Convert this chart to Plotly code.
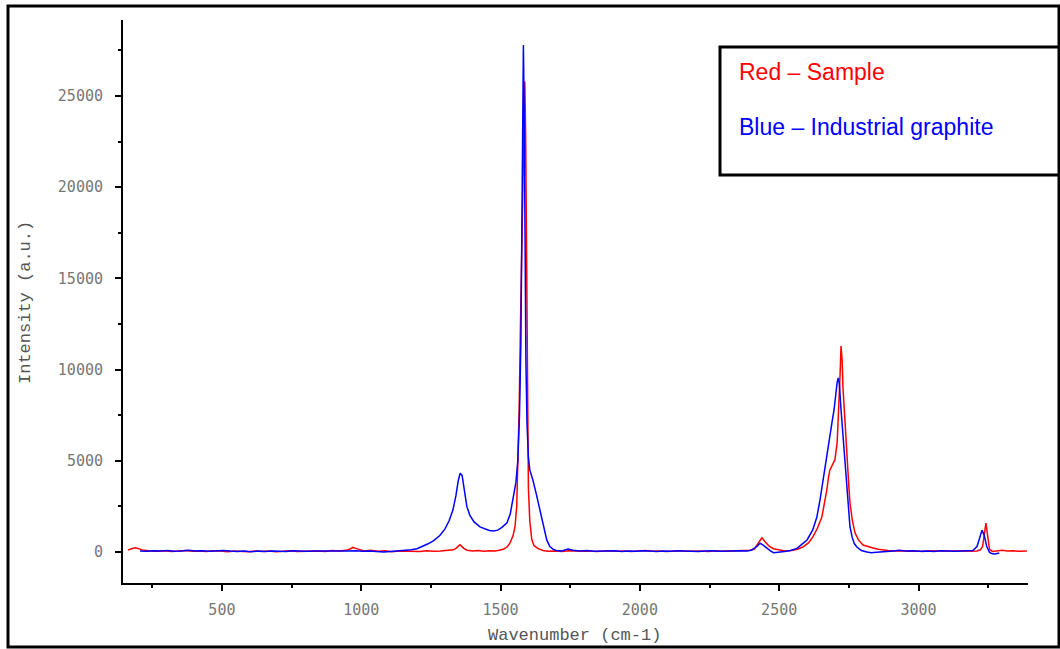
import plotly.graph_objects as go

# ---- Data ----
red_x = [163, 175, 190, 205, 220, 245, 270, 295, 320, 345, 370, 395, 420, 445, 470, 495, 520, 545, 570, 595,
         620, 645, 670, 695, 720, 745, 770, 795, 820, 845, 870, 895, 920, 945, 960, 970, 980, 995, 1010, 1035,
         1060, 1085, 1110, 1135, 1160, 1185, 1210, 1235, 1260, 1285, 1310, 1330, 1340, 1348, 1354, 1360, 1368, 1380, 1400, 1420,
         1440, 1460, 1480, 1495, 1510, 1525, 1534, 1545, 1552, 1558, 1562, 1567, 1572, 1578, 1583, 1587, 1590, 1593, 1596, 1600,
         1605, 1612, 1620, 1635, 1652, 1670, 1695, 1720, 1745, 1770, 1795, 1820, 1845, 1870, 1895, 1920, 1945, 1970, 1995, 2020,
         2045, 2070, 2095, 2120, 2145, 2170, 2195, 2220, 2245, 2270, 2295, 2320, 2345, 2370, 2395, 2410, 2425, 2438, 2450, 2465,
         2480, 2500, 2520, 2545, 2565, 2585, 2605, 2621, 2637, 2653, 2662, 2671, 2677, 2682, 2692, 2700, 2708, 2714, 2718, 2722,
         2726, 2729, 2736, 2743, 2750, 2754, 2763, 2772, 2785, 2801, 2820, 2837, 2855, 2872, 2890, 2915, 2940, 2965, 2990, 3015,
         3040, 3065, 3090, 3115, 3140, 3165, 3190, 3210, 3222, 3230, 3236, 3242, 3248, 3255, 3265, 3280, 3300, 3320, 3340, 3360,
         3375, 3389]
red_y = [100, 180, 230, 160, 90, 60, 40, 70, 30, 50, 80, 40, 60, 30, 70, 50, 20, 60, 40, 10,
         50, 30, 60, 20, 40, 70, 30, 50, 40, 60, 30, 80, 50, 90, 160, 250, 200, 120, 60, 90,
         40, 70, 20, 50, 40, 60, 30, 70, 40, 60, 80, 120, 200, 330, 400, 320, 200, 100, 60, 80,
         40, 70, 50, 90, 150, 300, 500, 900, 1400, 2500, 4700, 8000, 13000, 19000, 24000, 25800, 23000, 15000, 8000, 3500,
         1700, 700, 350, 180, 80, 40, 60, 30, 70, 50, 40, 60, 30, 50, 70, 40, 60, 30, 50, 80,
         40, 60, 30, 50, 70, 40, 60, 50, 30, 70, 40, 60, 50, 80, 100, 150, 500, 780, 550, 300,
         180, 100, 60, 80, 150, 270, 500, 830, 1300, 1900, 2600, 3400, 4100, 4500, 4800, 5050, 6000, 7800, 9500, 11300,
         10500, 9000, 7000, 5200, 3600, 2700, 1700, 1050, 650, 380, 280, 220, 150, 100, 80, 50, 70, 40, 60, 30,
         70, 50, 40, 60, 50, 70, 40, 60, 120, 300, 900, 1590, 900, 150, 30, 60, 90, 50, 70, 40,
         60, 50]

blue_x = [206, 230, 255, 280, 305, 330, 355, 380, 405, 430, 455, 480, 505, 530, 555, 580, 605, 630, 655, 680,
          705, 730, 755, 780, 805, 830, 855, 880, 905, 930, 955, 980, 1005, 1030, 1055, 1080, 1105, 1130, 1155, 1180,
          1200, 1220, 1240, 1260, 1282, 1300, 1315, 1329, 1340, 1348, 1355, 1362, 1370, 1379, 1390, 1405, 1426, 1445, 1460, 1475,
          1490, 1505, 1523, 1535, 1545, 1555, 1562, 1568, 1573, 1577, 1580, 1582, 1585, 1588, 1591, 1595, 1600, 1605, 1616, 1628,
          1641, 1654, 1666, 1677, 1688, 1700, 1720, 1742, 1760, 1785, 1810, 1835, 1860, 1885, 1910, 1935, 1960, 1985, 2010, 2035,
          2060, 2085, 2110, 2135, 2160, 2185, 2210, 2235, 2260, 2285, 2310, 2335, 2360, 2385, 2400, 2420, 2431, 2440, 2455, 2470,
          2480, 2500, 2520, 2540, 2564, 2580, 2600, 2620, 2635, 2647, 2657, 2667, 2675, 2682, 2689, 2697, 2704, 2708, 2712, 2716,
          2722, 2729, 2736, 2743, 2750, 2754, 2762, 2770, 2779, 2795, 2815, 2830, 2850, 2870, 2890, 2910, 2930, 2955, 2980, 3005,
          3030, 3055, 3080, 3105, 3130, 3155, 3180, 3195, 3210, 3220, 3228, 3236, 3245, 3255, 3265, 3274, 3282, 3290]
blue_y = [60, 40, 70, 50, 80, 40, 60, 90, 50, 70, 40, 60, 80, 50, 30, 60, 20, 50, 30, 60,
          40, 30, 70, 50, 40, 60, 50, 70, 40, 60, 50, 70, 40, 60, 20, 0, 30, 50, 80, 120,
          180, 300, 450, 620, 900, 1250, 1700, 2300, 3100, 3900, 4320, 4200, 3500, 2500, 2000, 1650, 1380, 1250, 1180, 1150,
          1200, 1350, 1600, 2100, 2850, 3800, 5000, 7500, 11500, 18000, 25500, 27800, 24000, 16000, 10500, 7000, 5200, 4500, 3950, 3200,
          2300, 1400, 650, 300, 160, 80, 60, 160, 90, 60, 80, 40, 60, 50, 70, 30, 60, 40, 70, 50,
          30, 60, 40, 70, 50, 60, 30, 50, 70, 40, 60, 50, 70, 60, 100, 300, 480, 400, 200, 50,
          -40, -20, 30, 80, 200, 400, 660, 1200, 1900, 2900, 3950, 5000, 5750, 6400, 7050, 7800, 8800, 9300, 9550, 9200,
          7800, 6300, 4800, 3400, 2100, 1400, 800, 450, 270, 80, 0, -40, -20, 20, 40, 60, 90, 50, 70, 40,
          60, 30, 70, 50, 40, 60, 50, 80, 300, 800, 1200, 900, 300, -20, -100, -110, -80, -60]

x_range = [145, 3393]
y_range = [-1700, 29170]
legend_lines = ["Red \u2013 Sample", "Blue \u2013 Industrial graphite"]

# ---- Figure ----
fig = go.Figure()
fig.add_trace(go.Scatter(x=red_x, y=red_y, mode="lines", line=dict(color="#FF0000", width=1.5), showlegend=False))
fig.add_trace(go.Scatter(x=blue_x, y=blue_y, mode="lines", line=dict(color="#0000FF", width=1.5), showlegend=False))

tick_font = dict(family="DejaVu Sans Mono", size=15, color="#777777")
fig.update_xaxes(range=x_range, tick0=0, dtick=500, ticks="outside", ticklen=6, tickwidth=1.5, tickcolor="black",
                 showline=True, linecolor="black", linewidth=2, showgrid=False, zeroline=False,
                 tickfont=tick_font, ticklabelstandoff=6, tickformat="d",
                 minor=dict(dtick=250, tick0=0, ticks="outside", ticklen=3, tickcolor="black", showgrid=False))
fig.update_yaxes(range=y_range, tick0=0, dtick=5000, ticks="outside", ticklen=6, tickwidth=1.5, tickcolor="black",
                 showline=True, linecolor="black", linewidth=2, showgrid=False, zeroline=False,
                 tickfont=tick_font, ticklabelstandoff=9, tickformat="d",
                 minor=dict(dtick=2500, tick0=0, ticks="outside", ticklen=3, tickcolor="black", showgrid=False))

W, H = 1060, 649
L, R, T, B = 123, 32, 20, 66
pw, ph = W - L - R, H - T - B


def px(x):
    return (x - L) / pw


def py(y):
    return (H - B - y) / ph


shapes = [
    # outer frame
    dict(type="rect", xref="paper", yref="paper", x0=px(8), x1=px(1059), y0=py(647), y1=py(6),
         line=dict(color="black", width=3), fillcolor="rgba(0,0,0,0)", layer="above"),
    # legend box
    dict(type="rect", xref="paper", yref="paper", x0=px(720), x1=px(1059), y0=py(175), y1=py(47),
         line=dict(color="black", width=3), fillcolor="white", layer="above"),
]

annotations = [
    dict(text=legend_lines[0], xref="paper", yref="paper", x=px(737), y=py(72), xanchor="left", yanchor="middle",
         showarrow=False, font=dict(family="Liberation Sans", size=23, color="#FF0000")),
    dict(text=legend_lines[1], xref="paper", yref="paper", x=px(737), y=py(127), xanchor="left", yanchor="middle",
         showarrow=False, font=dict(family="Liberation Sans", size=23, color="#0000FF")),
    dict(text="Wavenumber (cm-1)", xref="paper", yref="paper", x=px(574), y=py(636), xanchor="center", yanchor="middle",
         showarrow=False, font=dict(family="Liberation Mono", size=17, color="#555555")),
    dict(text="Intensity (a.u.)", xref="paper", yref="paper", x=px(26), y=py(303), xanchor="center", yanchor="middle",
         textangle=-90, showarrow=False, font=dict(family="Liberation Mono", size=17, color="#555555")),
]

fig.update_layout(width=W, height=H, margin=dict(l=L, r=R, t=T, b=B, autoexpand=False),
                  paper_bgcolor="white", plot_bgcolor="white", shapes=shapes, annotations=annotations,
                  showlegend=False)

fig.write_html("out.html", config={"displayModeBar": False},
               post_script="document.body.style.margin='0px';document.body.style.overflow='hidden';")
